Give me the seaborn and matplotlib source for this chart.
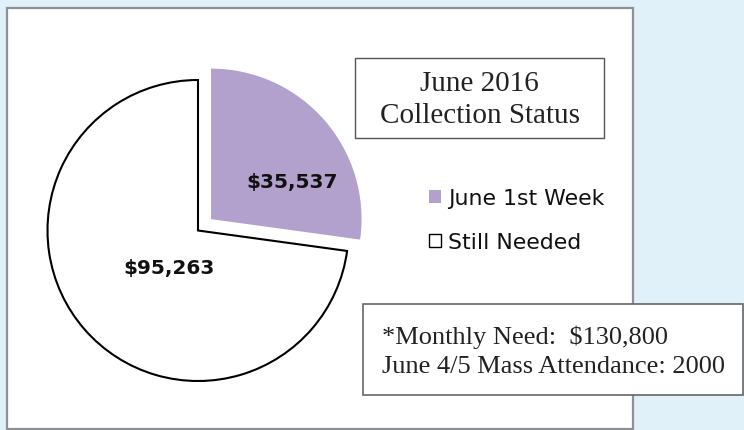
import numpy as np
import matplotlib
matplotlib.use("Agg")
import matplotlib.pyplot as plt
from matplotlib.patches import Rectangle
import seaborn as sns

# ---- data ----
categories = ["June 1st Week", "Still Needed"]
values = [35537, 95263]
title_lines = ["June 2016", "Collection Status"]
note_lines = ["*Monthly Need:  $130,800", "June 4/5 Mass Attendance: 2000"]

sns.set_theme(style="white")
plt.rcParams["font.family"] = ["DejaVu Sans"]

W, H = 744, 431
fig = plt.figure(figsize=(W / 100, H / 100), dpi=100)
fig.patch.set_facecolor("#E1F1F9")

def fx(x):
    return x / W

def fy(y):
    return 1 - y / H

# chart area
fig.patches.append(Rectangle((fx(7), fy(430)), (633 - 7) / W, (430 - 9) / H,
                             transform=fig.transFigure, facecolor="white",
                             edgecolor="#8C9196", linewidth=1.6, zorder=-2))

# pie axes
R = 150.5
cx, cy = 198, 231.5
half = 1.2 * R
ax = fig.add_axes([fx(cx - half), fy(cy + half), 2 * half / W, 2 * half / H])
ax.set_facecolor("none")
ax.set_zorder(2)

palette = sns.color_palette(["#B2A1CC", "#FFFFFF"])
total = sum(values)
wedges, _texts, autotexts = ax.pie(
    values, colors=palette, startangle=90, counterclock=False,
    explode=[0.115, 0.0], radius=1.0,
    autopct=lambda p: "${:,.0f}".format(round(p * total / 100)),
    pctdistance=0.5,
    textprops=dict(fontsize=14.5, fontweight="bold", color="#111111"))
wedges[0].set_edgecolor("none")
wedges[1].set_edgecolor("black")
wedges[1].set_linewidth(1.5)
ax.set_xlim(-1.2, 1.2)
ax.set_ylim(-1.2, 1.2)
ax.set_aspect("equal")
ax.axis("off")

# label placement (distance, angle in degrees) relative to each wedge centre
label_polar = [(0.595, 25.0), (0.31, 232.0)]
for w, t, (r, a) in zip(wedges, autotexts, label_polar):
    c = w.center
    t.set_position((c[0] + r * np.cos(np.radians(a)), c[1] + r * np.sin(np.radians(a))))
    t.set_ha("center")
    t.set_va("center")

# title box
fig.patches.append(Rectangle((fx(355), fy(139)), (604 - 355) / W, (139 - 59) / H,
                             transform=fig.transFigure, facecolor="white",
                             edgecolor="#555555", linewidth=1.0, zorder=1))
fig.text(fx(479.5), fy(100), "\n".join(title_lines), ha="center", va="center",
         fontsize=21, family=["Liberation Serif"], color="#222222",
         linespacing=1.3, zorder=3)

# legend
leg = ax.legend(wedges, categories, loc="upper left",
                bbox_to_anchor=(fx(429), fy(189)), bbox_transform=fig.transFigure,
                frameon=False, fontsize=15.8, handlelength=0.55, handleheight=0.55,
                handletextpad=0.3, labelspacing=1.1, borderpad=0, borderaxespad=0)
for t in leg.get_texts():
    t.set_color("#111111")
leg.legend_handles[1].set_linewidth(1.0)

# note box
fig.patches.append(Rectangle((fx(363), fy(396)), (743 - 363) / W, (396 - 305) / H,
                             transform=fig.transFigure, facecolor="white",
                             edgecolor="#666666", linewidth=1.2, zorder=1))
fig.text(fx(382), fy(352), "\n".join(note_lines), ha="left", va="center",
         fontsize=19, family=["Liberation Serif"], color="#222222",
         linespacing=1.4, zorder=3)

fig.savefig("out.png", dpi=100, facecolor=fig.get_facecolor())
